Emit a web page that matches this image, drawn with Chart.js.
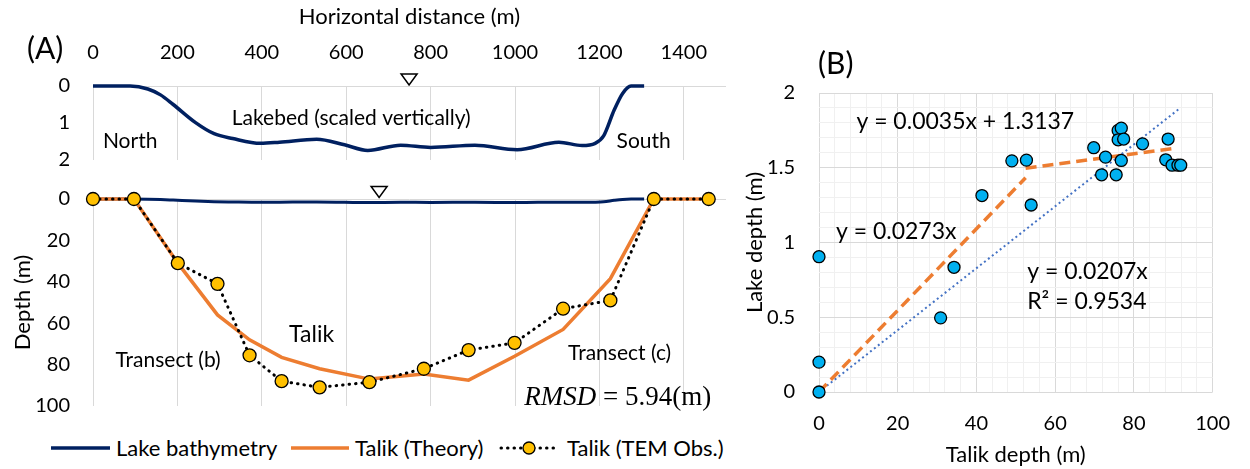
<!DOCTYPE html>
<html lang="en">
<head>
<meta charset="UTF-8">
<title>Talik depth vs lake bathymetry</title>
<script src="https://cdn.jsdelivr.net/npm/chart.js@4"></script>
<style>
    body { margin: 0; background: #fff; font-family: Lato, sans-serif; }
    #wrap { position: relative; width: 1250px; height: 469px; overflow: hidden; }
    canvas { position: absolute; }
    .txt { position: absolute; color: #000; white-space: nowrap; }
    .panel { font-size: 30px; }
    .leg { position: absolute; top: 436px; height: 24px; line-height: 24px; font-size: 22px; color: #000; white-space: nowrap; }
    svg.leg { overflow: visible; }
</style>
</head>
<body>
<div id="wrap">
    <canvas id="inset" width="740" height="175" style="left:0;top:0"></canvas>
    <canvas id="talik" width="740" height="250" style="left:0;top:170px"></canvas>
    <canvas id="scatter" width="510" height="469" style="left:740px;top:0"></canvas>

    <div class="txt panel" style="left:27px;top:29px">(A)</div>
    <div class="txt panel" style="left:818px;top:44px">(B)</div>

    <svg class="leg" style="left:51px" width="60" height="24"><line x1="0" y1="12" x2="59" y2="12" stroke="#002060" stroke-width="3.5"/></svg>
    <div class="leg" style="left:116px">Lake bathymetry</div>
    <svg class="leg" style="left:291px" width="58" height="24"><line x1="0" y1="12" x2="58" y2="12" stroke="#ED7D31" stroke-width="3.5"/></svg>
    <div class="leg" style="left:355px">Talik (Theory)</div>
    <svg class="leg" style="left:499px" width="60" height="24">
        <line x1="2" y1="12" x2="58" y2="12" stroke="#000" stroke-width="3" stroke-dasharray="0.5 6" stroke-linecap="round"/>
        <circle cx="30" cy="12" r="6" fill="#FFC000" stroke="#000" stroke-width="1.3"/>
    </svg>
    <div class="leg" style="left:567px">Talik (TEM Obs.)</div>
</div>
<script>
    // ---- Panel A: lakebed profile (m along transect, depth in m) ----
    const bathyDist = [0, 88, 130, 160, 190, 243, 287, 331, 397, 442, 530, 596, 651, 729, 800, 905, 1005, 1104, 1159, 1190, 1210, 1235, 1255, 1275, 1306];
    const bathyDepth = [0, 0, 0.08, 0.24, 0.5, 0.99, 1.29, 1.42, 1.55, 1.52, 1.44, 1.59, 1.74, 1.60, 1.66, 1.60, 1.72, 1.52, 1.61, 1.55, 1.35, 0.65, 0.2, 0, 0];

    // ---- Panel A: talik depth along the transect ----
    const talikDist = [0, 97, 201, 295, 371, 447, 537, 655, 784, 890, 999, 1114, 1226, 1329, 1459];
    const talikTheory = [0, 0, 31, 56, 68, 76.5, 82, 87, 84.5, 87.5, 76, 63, 38.5, 0, 0];
    const talikTEM = [0, 0, 31, 41, 75.5, 88, 91, 88.5, 82, 73, 69.5, 53, 49, 0, 0];

    // water surface markers (distance, depth above 0)
    const surfaceInset = [749, -0.19];
    const surfaceMain = [678, -3.6];

    // ---- Panel B: talik depth vs lake depth ----
    const scatterTalik = [0, 0, 0, 30.9, 34.3, 41.4, 49.0, 52.7, 53.9, 69.8, 71.8, 72.8, 75.5, 76.0, 76.8, 76.0, 77.4, 76.8, 82.2, 88.1, 88.7, 89.7, 91.2, 91.9];
    const scatterLake = [0.905, 0.20, 0, 0.496, 0.834, 1.314, 1.546, 1.551, 1.251, 1.634, 1.453, 1.571, 1.453, 1.750, 1.765, 1.687, 1.692, 1.549, 1.660, 1.553, 1.692, 1.517, 1.517, 1.517];

    // fitted lines, end points as drawn
    const fitSteepX = [0, 52.5];
    const fitSteepY = [0, 1.433];
    const fitFlatX = [52.5, 91];
    const fitFlatY = [1.497, 1.632];
    const fitAllX = [0, 91.5];
    const fitAllY = [0, 1.894];

    const NAVY = '#002060', ORANGE = '#ED7D31', GOLD = '#FFC000', CYAN = '#00B0F0', BLUE = '#4472C4';
    const GRID = '#d9d9d9', MINOR = '#f0f0f0', NONE = 'rgba(0,0,0,0)';
    const FONT = 'Lato, sans-serif';

    Chart.defaults.font.family = FONT;
    Chart.defaults.color = '#000';

    const xy = (xs, ys) => xs.map((x, i) => ({ x: x, y: ys[i] }));

    // text written at data coordinates
    const notesPlugin = {
        id: 'notes',
        afterDatasetsDraw(chart, args, opts) {
            const ctx = chart.ctx;
            const sx = chart.scales.x, sy = chart.scales.y;
            (opts.items || []).forEach(n => {
                const parts = n.parts || [{ text: n.text, font: n.font }];
                ctx.save();
                ctx.fillStyle = '#000';
                ctx.textBaseline = 'middle';
                ctx.textAlign = 'left';
                let total = 0;
                parts.forEach(p => { ctx.font = p.font; total += ctx.measureText(p.text).width; });
                let px = sx.getPixelForValue(n.x);
                if (n.align === 'center') px -= total / 2;
                const py = sy.getPixelForValue(n.y);
                parts.forEach(p => {
                    ctx.font = p.font;
                    ctx.fillText(p.text, px, py);
                    px += ctx.measureText(p.text).width;
                });
                ctx.restore();
            });
        }
    };

    // inverted triangle for the water surface
    const surfacePlugin = {
        id: 'surface',
        afterDatasetsDraw(chart, args, opts) {
            if (!opts.at) return;
            const ctx = chart.ctx;
            const px = chart.scales.x.getPixelForValue(opts.at[0]);
            const py = chart.scales.y.getPixelForValue(opts.at[1]);
            ctx.save();
            ctx.beginPath();
            ctx.moveTo(px - 8, py - 5);
            ctx.lineTo(px + 8, py - 5);
            ctx.lineTo(px, py + 6);
            ctx.closePath();
            ctx.fillStyle = '#fff';
            ctx.fill();
            ctx.lineWidth = 1.5;
            ctx.strokeStyle = '#000';
            ctx.stroke();
            ctx.restore();
        }
    };

    const zeroLine = c => c.tick.value === 0 ? GRID : NONE;
    // label gap made with an invisible tick mark (tick padding would also pad the axis ends)
    const yGrid = { color: zeroLine, drawTicks: true, tickLength: 23, tickColor: NONE };

    // --- inset: lakebed (scaled vertically) ---
    new Chart(document.getElementById('inset'), {
        type: 'line',
        data: {
            datasets: [{
                data: xy(bathyDist, bathyDepth),
                borderColor: NAVY,
                borderWidth: 3.5,
                pointRadius: 0,
                cubicInterpolationMode: 'monotone',
                clip: false
            }]
        },
        options: {
            responsive: false,
            animation: false,
            devicePixelRatio: 1,
            layout: { padding: { left: 0, right: 14, top: 0, bottom: 15 } },
            scales: {
                x: {
                    type: 'linear', position: 'top', min: 0, max: 1500,
                    ticks: { stepSize: 200, includeBounds: false, autoSkip: false, padding: 21, maxRotation: 0, font: { size: 20 }, callback: v => String(v) },
                    grid: { color: GRID, drawTicks: false },
                    border: { display: false },
                    title: { display: true, text: 'Horizontal distance (m)', font: { size: 22 }, padding: { top: 4, bottom: 0 } },
                    afterFit: s => { s.height = 86; }
                },
                y: {
                    reverse: true, min: 0, max: 2,
                    ticks: { stepSize: 1, padding: 0, autoSkip: false, font: { size: 20 } },
                    grid: yGrid,
                    border: { display: false },
                    afterFit: s => { s.width = 93; }
                }
            },
            plugins: {
                legend: { display: false },
                tooltip: { enabled: false },
                surface: { at: surfaceInset },
                notes: {
                    items: [
                        { text: 'Lakebed (scaled vertically)', x: 612, y: 0.86, align: 'center', font: '21px ' + FONT },
                        { text: 'North', x: 88, y: 1.5, align: 'center', font: '21px ' + FONT },
                        { text: 'South', x: 1305, y: 1.5, align: 'center', font: '21px ' + FONT }
                    ]
                }
            }
        },
        plugins: [notesPlugin, surfacePlugin]
    });

    // --- main: talik depth ---
    new Chart(document.getElementById('talik'), {
        type: 'line',
        data: {
            datasets: [
                {
                    label: 'Lake bathymetry',
                    data: xy(bathyDist, bathyDepth),
                    borderColor: NAVY, borderWidth: 3, pointRadius: 0,
                    cubicInterpolationMode: 'monotone', clip: false, order: 2
                },
                {
                    label: 'Talik (Theory)',
                    data: xy(talikDist, talikTheory),
                    borderColor: ORANGE, borderWidth: 3.5, pointRadius: 0,
                    tension: 0, clip: false, order: 1
                },
                {
                    label: 'Talik (TEM Obs.)',
                    data: xy(talikDist, talikTEM),
                    borderColor: '#000', borderWidth: 3, borderDash: [0.5, 6], borderCapStyle: 'round',
                    pointRadius: 6.5, pointBackgroundColor: GOLD, pointBorderColor: '#000', pointBorderWidth: 1.3,
                    tension: 0, clip: false, order: 0
                }
            ]
        },
        options: {
            responsive: false,
            animation: false,
            devicePixelRatio: 1,
            layout: { padding: { left: 0, right: 14, top: 29, bottom: 14 } },
            scales: {
                x: {
                    type: 'linear', min: 0, max: 1500,
                    ticks: { stepSize: 200, includeBounds: false, display: false },
                    grid: { color: GRID, drawTicks: false },
                    border: { display: false },
                    afterFit: s => { s.height = 0; }
                },
                y: {
                    reverse: true, min: 0, max: 100,
                    ticks: { stepSize: 20, padding: 0, autoSkip: false, font: { size: 20 } },
                    grid: yGrid,
                    border: { display: false },
                    title: { display: true, text: 'Depth (m)', font: { size: 22 }, padding: { top: 10, bottom: 0 } },
                    afterFit: s => { s.width = 93; }
                }
            },
            plugins: {
                legend: { display: false },
                tooltip: { enabled: false },
                surface: { at: surfaceMain },
                notes: {
                    items: [
                        { text: 'Talik', x: 518, y: 65.7, align: 'center', font: '23px ' + FONT },
                        { text: 'Transect (b)', x: 178, y: 77.8, align: 'center', font: '21px ' + FONT },
                        { text: 'Transect (c)', x: 1248, y: 74.4, align: 'center', font: '21px ' + FONT },
                        { x: 1022, y: 96, parts: [
                            { text: 'RMSD', font: 'italic 27px "Liberation Serif", serif' },
                            { text: ' = 5.94(m)', font: '27px "Liberation Serif", serif' }
                        ] }
                    ]
                }
            }
        },
        plugins: [notesPlugin, surfacePlugin]
    });

    // --- panel B: scatter with fitted lines ---
    new Chart(document.getElementById('scatter'), {
        type: 'scatter',
        data: {
            datasets: [
                {
                    data: xy(scatterTalik, scatterLake),
                    pointRadius: 6, pointBackgroundColor: CYAN, pointBorderColor: '#000', pointBorderWidth: 1.3,
                    clip: false, order: 0
                },
                {
                    data: xy(fitSteepX, fitSteepY), showLine: true, pointRadius: 0,
                    borderColor: ORANGE, borderWidth: 3.5, borderDash: [11, 6], order: 1
                },
                {
                    data: xy(fitFlatX, fitFlatY), showLine: true, pointRadius: 0,
                    borderColor: ORANGE, borderWidth: 3.5, borderDash: [11, 6], order: 1
                },
                {
                    data: xy(fitAllX, fitAllY), showLine: true, pointRadius: 0,
                    borderColor: BLUE, borderWidth: 2, borderDash: [2, 3], order: 2
                }
            ]
        },
        options: {
            responsive: false,
            animation: false,
            devicePixelRatio: 1,
            layout: { padding: { left: 0, right: 32, top: 93, bottom: 0 } },
            scales: {
                x: {
                    min: 0, max: 100,
                    ticks: {
                        stepSize: 4, autoSkip: false, maxRotation: 0, padding: 20, font: { size: 20 },
                        callback: v => (v % 20 === 0 ? String(v) : '')
                    },
                    grid: { color: c => (c.tick.value % 20 === 0 ? GRID : MINOR), drawTicks: false },
                    border: { display: false },
                    title: { display: true, text: 'Talik depth (m)', font: { size: 22 }, padding: { top: 0, bottom: 1 } },
                    afterFit: s => { s.height = 77; }
                },
                y: {
                    min: 0, max: 2,
                    ticks: {
                        stepSize: 0.1, autoSkip: false, padding: 24, font: { size: 20 },
                        callback: v => (Math.abs(v * 2 - Math.round(v * 2)) < 1e-6 ? String(Math.round(v * 10) / 10) : '')
                    },
                    grid: { color: c => (Math.abs(c.tick.value * 2 - Math.round(c.tick.value * 2)) < 1e-6 ? GRID : MINOR), drawTicks: false },
                    border: { display: false },
                    title: { display: true, text: 'Lake depth (m)', font: { size: 22 }, padding: { top: 2, bottom: 0 } },
                    afterFit: s => { s.width = 79; }
                }
            },
            plugins: {
                legend: { display: false },
                tooltip: { enabled: false },
                notes: {
                    items: [
                        { text: 'y = 0.0035x + 1.3137', x: 9.5, y: 1.806, font: '23px ' + FONT },
                        { text: 'y = 0.0273x', x: 4.3, y: 1.07, font: '23px ' + FONT },
                        { text: 'y = 0.0207x', x: 52.9, y: 0.803, font: '23px ' + FONT },
                        { text: 'R² = 0.9534', x: 52.9, y: 0.602, font: '23px ' + FONT }
                    ]
                }
            }
        },
        plugins: [notesPlugin]
    });
</script>
</body>
</html>
